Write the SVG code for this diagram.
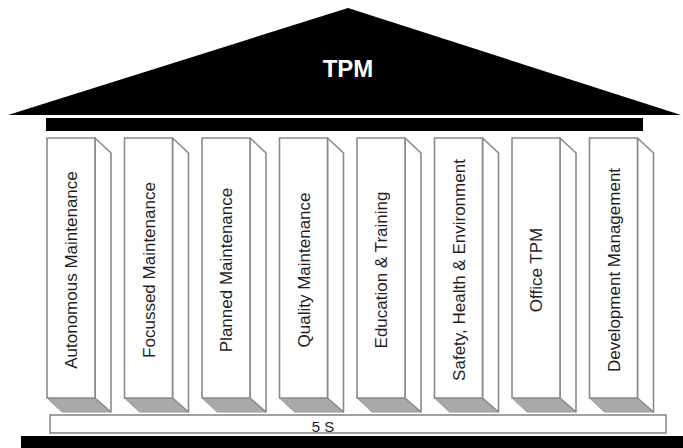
<svg xmlns="http://www.w3.org/2000/svg" width="683" height="448" viewBox="0 0 683 448">
<style>
.face{fill:#fff;stroke:#8a8a8a;stroke-width:1.6;stroke-linejoin:round}
.shadow{fill:#a9a9a9;stroke:#9a9a9a;stroke-width:1}
.lbl{font-family:"Liberation Sans",Arial,sans-serif;font-size:17px;fill:#1e1e1e;text-anchor:middle}
</style>
<defs>
<g id="pillar">
<polygon class="shadow" points="0,398 48,398 64,412 15,412"/>
<polygon class="face" points="48,138 64,153 64,412 48,398"/>
<rect class="face" x="0" y="138" width="48" height="260"/>
</g>
</defs>
<rect width="683" height="448" fill="#fff"/>
<g id="roof">
<polygon points="8,115 348,8 681,115" fill="#000"/>
<text x="348" y="77" font-family="Liberation Sans,Arial,sans-serif" font-size="24" font-weight="bold" fill="#fff" text-anchor="middle">TPM</text>
</g>
<g id="architrave"><rect x="46" y="118" width="597" height="13" fill="#000"/></g>
<g id="p1"><use href="#pillar" x="47"/><text class="lbl" transform="translate(77,270) rotate(-90)">Autonomous Maintenance</text></g>
<g id="p2"><use href="#pillar" x="124.5"/><text class="lbl" transform="translate(154.5,270) rotate(-90)">Focussed Maintenance</text></g>
<g id="p3"><use href="#pillar" x="202"/><text class="lbl" transform="translate(232,270) rotate(-90)">Planned Maintenance</text></g>
<g id="p4"><use href="#pillar" x="279.5"/><text class="lbl" transform="translate(309.5,270) rotate(-90)">Quality Maintenance</text></g>
<g id="p5"><use href="#pillar" x="357"/><text class="lbl" transform="translate(387,270) rotate(-90)">Education &amp; Training</text></g>
<g id="p6"><use href="#pillar" x="434.5"/><text class="lbl" transform="translate(464.5,270) rotate(-90)">Safety, Health &amp; Environment</text></g>
<g id="p7"><use href="#pillar" x="512"/><text class="lbl" transform="translate(542,270) rotate(-90)">Office TPM</text></g>
<g id="p8"><use href="#pillar" x="589.5"/><text class="lbl" transform="translate(619.5,270) rotate(-90)">Development Management</text></g>
<g id="base">
<rect x="50" y="415" width="616" height="18" fill="#fff" stroke="#8a8a8a" stroke-width="1.6"/>
<text x="323" y="432" font-family="Liberation Sans,Arial,sans-serif" font-size="15" fill="#1e1e1e" text-anchor="middle">5 S</text>
</g>
<g id="ground"><rect x="21" y="436" width="662" height="12" fill="#000"/></g>
<g id="connectors"/>
</svg>
